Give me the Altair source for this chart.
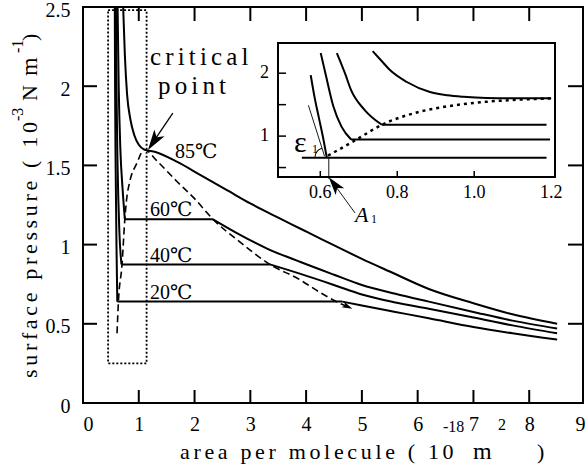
import altair as alt
import pandas as pd

# ---------------- main panel data (area per molecule, surface pressure) ----------------
# each isotherm: steep left branch (ends where the plateau starts) and right branch (starts where it ends)
t20_left_x = [0.57, 0.575, 0.585, 0.60, 0.615]
t20_left_y = [2.5, 2.0, 1.5, 1.0, 0.64]
t20_right_x = [4.65, 5.0, 5.6, 6.2, 7.0, 7.7, 8.5]
t20_right_y = [0.64, 0.615, 0.575, 0.535, 0.48, 0.44, 0.40]
t40_left_x = [0.59, 0.60, 0.62, 0.65, 0.69]
t40_left_y = [2.5, 2.0, 1.5, 1.1, 0.875]
t40_right_x = [3.35, 3.9, 4.5, 5.0, 5.6, 6.2, 7.0, 7.7, 8.5]
t40_right_y = [0.875, 0.815, 0.745, 0.685, 0.635, 0.595, 0.54, 0.49, 0.44]
t60_left_x = [0.62, 0.64, 0.67, 0.71, 0.75]
t60_left_y = [2.5, 2.0, 1.6, 1.35, 1.16]
t60_right_x = [2.33, 2.8, 3.3, 3.9, 4.5, 5.0, 5.6, 6.2, 7.0, 7.7, 8.5]
t60_right_y = [1.16, 1.065, 0.975, 0.89, 0.81, 0.745, 0.69, 0.64, 0.575, 0.52, 0.47]
t85_x = [0.72, 0.75, 0.79, 0.85, 0.92, 1.0, 1.1, 1.3, 1.7, 2.1, 2.6, 3.0, 3.5, 3.9, 4.3, 5.0, 5.5, 6.2, 7.0, 7.7, 8.5]
t85_y = [2.5, 2.2, 1.95, 1.79, 1.69, 1.63, 1.6, 1.585, 1.52, 1.44, 1.34, 1.26, 1.17, 1.10, 1.03, 0.91, 0.83, 0.72, 0.63, 0.56, 0.50]
bin_x = [0.61, 0.635, 0.70, 0.75, 0.78, 0.84, 0.96, 1.1, 1.32, 1.68, 2.0, 2.33, 2.8, 3.35, 3.88, 4.24, 4.6, 4.8]
bin_y = [0.44, 0.64, 0.875, 1.16, 1.28, 1.40, 1.51, 1.6, 1.53, 1.40, 1.29, 1.16, 1.02, 0.875, 0.78, 0.70, 0.63, 0.60]
box_x = [0.45, 1.14]
box_y = [0.25, 2.48]
x_label_values = [0, 1, 2, 3, 4, 5, 6, 7, 8, 9]
y_label_values = [0, 0.5, 1, 1.5, 2, 2.5]
main_xticks = [1, 2, 3, 4, 5, 6, 7, 8]
main_yticks = [0.5, 1.0, 1.5, 2.0]
temp_text = ["85℃", "60℃", "40℃", "20℃"]
temp_x = [1.65, 1.20, 1.20, 1.20]
temp_y = [1.548, 1.18, 0.89, 0.658]
crit_arrow_x = [1.61, 1.20]
crit_arrow_y = [1.83, 1.617]
crit_tip_x = [1.165]
crit_tip_y = [1.598]
bin_tip_x = [4.83]
bin_tip_y = [0.595]

# ---------------- inset data ----------------
i20c_x = [0.575, 0.585, 0.597, 0.608, 0.617]
i20c_y = [1.97, 1.62, 1.27, 0.95, 0.656]
i20p_x = [0.552, 1.188]
i20p_y = [0.656, 0.656]
i40_x = [0.601, 0.615, 0.634, 0.655, 0.68]
i40_y = [2.32, 1.95, 1.47, 1.15, 0.945]
i40_end = 1.197
i60_x = [0.643, 0.664, 0.68, 0.716, 0.76]
i60_y = [2.32, 2.0, 1.73, 1.41, 1.18]
i60_end = 1.188
i85_x = [0.736, 0.76, 0.781, 0.825, 0.885, 0.93, 0.972, 1.032, 1.1, 1.2]
i85_y = [2.35, 2.19, 2.05, 1.86, 1.70, 1.65, 1.625, 1.605, 1.60, 1.60]
idot_x = [0.62, 0.69, 0.76, 0.86, 0.95, 1.03, 1.12, 1.2]
idot_y = [0.69, 0.93, 1.18, 1.39, 1.49, 1.545, 1.58, 1.60]
inset_box_x = [0.49, 1.21]
inset_box_y = [0.35, 2.48]
inset_yticks = [0.5, 1.0, 1.5, 2.0]
inset_ylabels = [1, 2]
inset_xticks = [0.6, 0.8, 1.0]
inset_xlabels = [0.6, 0.8, 1.0, 1.2]
tangent_x = [0.569, 0.611]
tangent_y = [1.49, 0.68]
a1_line_x = [0.622, 0.622]
a1_line_y = [0.656, 0.32]
a1_arrow_x = [0.69, 0.628]
a1_arrow_y = [-0.22, 0.30]
a1_tip_x = [0.622]
a1_tip_y = [0.345]
eps_center_x = [0.612]
eps_center_y = [0.656]

ARROW = "M0,0L-0.6,2L0,1.5L0.6,2Z"
SERIF = "'Liberation Serif', 'Times New Roman', Times, 'DejaVu Serif', serif"
SP = "\u2006"  # six-per-em space used as letter spacing


def spaced(s):
    return SP.join(s)


def seg(name, xs, ys):
    return pd.DataFrame({"x": xs, "y": ys, "s": name, "o": list(range(len(xs)))})


XM = alt.Scale(domain=[0, 9], range=[0, 502], nice=False, zero=False)
YM = alt.Scale(domain=[0, 2.5], range=[396, 0], nice=False, zero=False)
XI = alt.Scale(domain=[0.49, 1.21], range=[195, 472], nice=False, zero=False)
YI = alt.Scale(domain=[0.35, 2.48], range=[170, 36], nice=False, zero=False)

AX = alt.Axis(values=x_label_values, format="d", labelFont=SERIF, labelFontSize=20,
              labelColor="black", ticks=False, domain=False, grid=False, labelPadding=11,
              labelFlush=True, labelOverlap=False, title=None)
AY = alt.Axis(values=y_label_values, format="~g", labelFont=SERIF, labelFontSize=20,
              labelColor="black", ticks=False, domain=False, grid=False, labelPadding=13,
              labelOffset=3, labelFlush=False, labelOverlap=False, title=None)


def mx(field="x"):
    return alt.X(f"{field}:Q", scale=XM, axis=None)


def my(field="y"):
    return alt.Y(f"{field}:Q", scale=YM, axis=None)


def ix(field="x"):
    return alt.X(f"{field}:Q", scale=XI, axis=None)


def iy(field="y"):
    return alt.Y(f"{field}:Q", scale=YI, axis=None)


def ptext(txt, px, py, size, angle=0, style="normal"):
    kw = dict(text=txt, font=SERIF, fontSize=size, align="left", baseline="alphabetic",
              color="black", fontStyle=style)
    if angle:
        kw["angle"] = angle
    return alt.Chart(pd.DataFrame({"d": [0]})).mark_text(**kw).encode(
        x=alt.value(px), y=alt.value(py))


# ---------------- main layers ----------------
curved = pd.concat([
    seg("20l", t20_left_x, t20_left_y), seg("20r", t20_right_x, t20_right_y),
    seg("40l", t40_left_x, t40_left_y), seg("40r", t40_right_x, t40_right_y),
    seg("60l", t60_left_x, t60_left_y), seg("60r", t60_right_x, t60_right_y),
    seg("85", t85_x, t85_y)])
main_lines = alt.Chart(curved).mark_line(color="black", strokeWidth=2, interpolate="monotone").encode(
    x=alt.X("x:Q", scale=XM, axis=AX), y=alt.Y("y:Q", scale=YM, axis=AY),
    detail="s:N", order="o:Q")

plateaus = pd.concat([
    seg("20p", [t20_left_x[-1], t20_right_x[0]], [t20_left_y[-1], t20_right_y[0]]),
    seg("40p", [t40_left_x[-1], t40_right_x[0]], [t40_left_y[-1], t40_right_y[0]]),
    seg("60p", [t60_left_x[-1], t60_right_x[0]], [t60_left_y[-1], t60_right_y[0]])])
plateau_lines = alt.Chart(plateaus).mark_line(color="black", strokeWidth=2).encode(
    x=mx(), y=my(), detail="s:N", order="o:Q")

binodal = alt.Chart(seg("b", bin_x, bin_y)).mark_line(
    color="black", strokeWidth=1.6, strokeDash=[7, 4], interpolate="monotone").encode(
    x=mx(), y=my(), order="o:Q")

dot_box = alt.Chart(pd.DataFrame({"x": [box_x[0]], "x2": [box_x[1]], "y": [box_y[0]], "y2": [box_y[1]]})).mark_rect(
    fillOpacity=0, stroke="black", strokeWidth=1.8, strokeDash=[2, 2]).encode(
    x=mx(), x2="x2:Q", y=my(), y2="y2:Q")

tick_w = 2
yt = pd.DataFrame({"v": main_yticks})
xt = pd.DataFrame({"v": main_xticks})
left_ticks = alt.Chart(yt).mark_rule(color="black", strokeWidth=tick_w).encode(
    y=my("v"), x=alt.value(0), x2=alt.value(14))
right_ticks = alt.Chart(yt).mark_rule(color="black", strokeWidth=tick_w).encode(
    y=my("v"), x=alt.value(485), x2=alt.value(500))
bottom_ticks = alt.Chart(xt).mark_rule(color="black", strokeWidth=tick_w).encode(
    x=mx("v"), y=alt.value(396), y2=alt.value(383))
top_ticks = alt.Chart(xt).mark_rule(color="black", strokeWidth=tick_w).encode(
    x=mx("v"), y=alt.value(0), y2=alt.value(14))
frame = alt.Chart(pd.DataFrame({"d": [0]})).mark_rect(
    fillOpacity=0, stroke="black", strokeWidth=2).encode(
    x=alt.value(0), x2=alt.value(500), y=alt.value(0), y2=alt.value(396))

temps = alt.Chart(pd.DataFrame({"x": temp_x, "y": temp_y, "t": temp_text})).mark_text(
    font=SERIF, fontSize=20, align="left", baseline="alphabetic", color="black").encode(
    x=mx(), y=my(), text="t:N")

crit_line = alt.Chart(seg("a", crit_arrow_x, crit_arrow_y)).mark_line(color="black", strokeWidth=1.3).encode(
    x=mx(), y=my(), order="o:Q")
crit_head = alt.Chart(pd.DataFrame({"x": crit_tip_x, "y": crit_tip_y})).mark_point(
    shape=ARROW, filled=True, color="black", opacity=1, size=420, angle=214).encode(x=mx(), y=my())
bin_head = alt.Chart(pd.DataFrame({"x": bin_tip_x, "y": bin_tip_y})).mark_point(
    shape=ARROW, filled=True, color="black", opacity=1, size=110, angle=114).encode(x=mx(), y=my())

main_texts = [
    ptext(spaced("critical"), 67, 58, 25),
    ptext(spaced("point"), 75, 87, 25),
    # x title
    ptext(spaced("area per molecule ( 10"), 97, 452, 22),
    ptext("-18", 360, 425, 16),
    ptext("m", 390, 452, 24),
    ptext("2", 415, 423, 16),
    ptext(")", 454, 452, 22),
    # y title
    ptext(spaced("surface pressure ( 10"), -46, 371, 22, angle=270),
    ptext("-3", -60, 114, 16, angle=270),
    ptext("N", -46, 94, 22, angle=270),
    ptext("m", -46, 69, 24, angle=270),
    ptext("-1", -60, 46, 16, angle=270),
    ptext(")", -46, 34, 22, angle=270),
]

# ---------------- inset layers ----------------
inset_border = alt.Chart(pd.DataFrame({"x": [inset_box_x[0]], "x2": [inset_box_x[1]],
                                       "y": [inset_box_y[0]], "y2": [inset_box_y[1]]})).mark_rect(
    fill="white", stroke="black", strokeWidth=2).encode(x=ix(), x2="x2:Q", y=iy(), y2="y2:Q")
in_yt = alt.Chart(pd.DataFrame({"v": inset_yticks})).mark_rule(color="black", strokeWidth=1.5).encode(
    y=iy("v"), x=alt.value(195), x2=alt.value(203))
in_xt = alt.Chart(pd.DataFrame({"v": inset_xticks})).mark_rule(color="black", strokeWidth=1.5).encode(
    x=ix("v"), y=alt.value(170), y2=alt.value(164))
in_ylab = alt.Chart(pd.DataFrame({"v": inset_ylabels})).mark_text(
    font=SERIF, fontSize=18, align="right", baseline="middle", color="black").encode(
    y=iy("v"), x=alt.value(186), text=alt.Text("v:Q", format="d"))
in_xlab = alt.Chart(pd.DataFrame({"v": inset_xlabels})).mark_text(
    font=SERIF, fontSize=18, align="center", baseline="middle", color="black").encode(
    x=ix("v"), y=alt.value(186), text=alt.Text("v:Q", format=".1f"))

ins = pd.concat([seg("20c", i20c_x, i20c_y), seg("40", i40_x, i40_y),
                 seg("60", i60_x, i60_y), seg("85", i85_x, i85_y)])
in_lines = alt.Chart(ins).mark_line(color="black", strokeWidth=2, interpolate="monotone").encode(
    x=ix(), y=iy(), detail="s:N", order="o:Q")
ins_p = pd.concat([seg("20p", i20p_x, i20p_y),
                   seg("40p", [i40_x[-1], i40_end], [i40_y[-1], i40_y[-1]]),
                   seg("60p", [i60_x[-1], i60_end], [i60_y[-1], i60_y[-1]])])
in_plateaus = alt.Chart(ins_p).mark_line(color="black", strokeWidth=2).encode(
    x=ix(), y=iy(), detail="s:N", order="o:Q")
in_dots = alt.Chart(seg("d", idot_x, idot_y)).mark_line(
    color="black", strokeWidth=2.5, strokeDash=[3, 4], interpolate="monotone").encode(
    x=ix(), y=iy(), order="o:Q")
thin = pd.concat([seg("tan", tangent_x, tangent_y), seg("a1", a1_line_x, a1_line_y),
                  seg("arr", a1_arrow_x, a1_arrow_y)])
in_thin = alt.Chart(thin).mark_line(color="black", strokeWidth=0.9).encode(
    x=ix(), y=iy(), detail="s:N", order="o:Q")
in_arc = alt.Chart(pd.DataFrame({"x": eps_center_x, "y": eps_center_y})).mark_arc(
    outerRadius=10.5, innerRadius=9.4, theta=4.712, theta2=5.98, color="black").encode(x=ix(), y=iy())
a1_head = alt.Chart(pd.DataFrame({"x": a1_tip_x, "y": a1_tip_y})).mark_point(
    shape=ARROW, filled=True, color="black", opacity=1, size=330, angle=322).encode(x=ix(), y=iy())

inset_texts = [
    ptext("ε", 211, 145, 30),
    ptext("1", 229, 146, 12),
    ptext("A", 272, 215, 22, style="italic"),
    ptext("1", 288, 216, 12),
]

chart = alt.layer(
    main_lines, plateau_lines, binodal, dot_box, frame, left_ticks, right_ticks, bottom_ticks, top_ticks,
    temps, crit_line, crit_head, bin_head, *main_texts,
    inset_border, in_yt, in_xt, in_ylab, in_xlab, in_lines, in_plateaus, in_dots, in_thin,
    in_arc, a1_head, *inset_texts,
).resolve_scale(x="independent", y="independent").properties(
    width=500, height=396,
    padding={"left": 83, "top": 7, "right": 4, "bottom": 67},
    autosize=alt.AutoSizeParams(type="none"),
).configure_view(stroke=None)

chart.save("out.html", embed_options={"renderer": "svg", "actions": False})
